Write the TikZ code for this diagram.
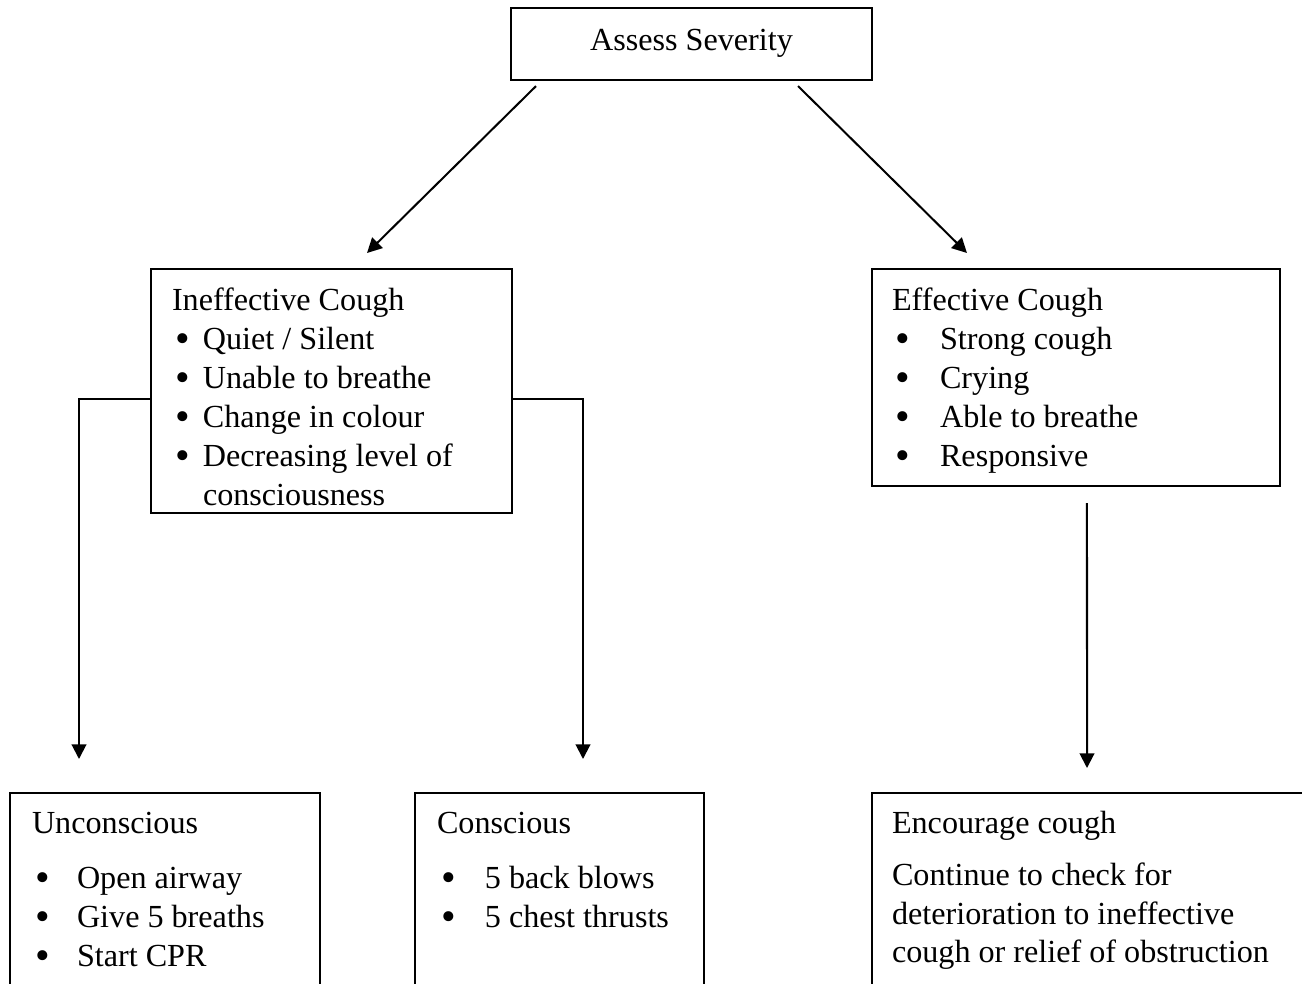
\documentclass[tikz,border=0pt]{standalone}
\usepackage{fontspec}
\usepackage{graphicx}
\setmainfont{Liberation Serif}
\usetikzlibrary{arrows.meta,calc}
\tikzstyle{panel} = [rectangle, draw=black, line width=0.75pt, inner sep=0pt, outer sep=0pt, anchor=north west]
\tikzstyle{txt} = [anchor=base west, inner sep=0pt, outer sep=0pt]
\tikzstyle{arrow} = [line width=0.75pt, -{Triangle[length=5.5pt,width=5.5pt]}]
\newcommand{\bul}[1]{\makebox[#1][l]{\raisebox{-1.2pt}{\scalebox{1.3}{\textbullet}}}}

\begin{document}
\begin{tikzpicture}[x=0.3731pt, y=-0.3731pt, font=\fontsize{12}{14.5}\selectfont]
\useasboundingbox (0,0) rectangle (1302,983);
\clip (0,0) rectangle (1302,983);

% Kaesten
\node (sev) [panel, minimum width=134.7pt, minimum height=26.9pt] at (511,8) {};
\node (ineff) [panel, minimum width=134.7pt, minimum height=91.0pt] at (151,269) {};
\node (eff) [panel, minimum width=152.2pt, minimum height=81.0pt] at (872,269) {};
\node (uncon) [panel, minimum width=115.7pt, minimum height=93.3pt] at (10,793) {};
\node (consc) [panel, minimum width=107.8pt, minimum height=93.3pt] at (415,793) {};
\node (enc) [panel, minimum width=186.6pt, minimum height=93.3pt] at (872,793) {};

% Texte oben
\node (sevT) [txt, anchor=base] at (691.5,50) {Assess Severity};

% Ineffective Cough
\node (ineffH) [txt] at (172,310) {Ineffective Cough};
\node (ineff1) [txt] at (175,349) {\bul{10.4pt}Quiet / Silent};
\node (ineff2) [txt] at (175,388) {\bul{10.4pt}Unable to breathe};
\node (ineff3) [txt] at (175,427) {\bul{10.4pt}Change in colour};
\node (ineff4) [txt] at (175,466) {\bul{10.4pt}Decreasing level of};
\node (ineff5) [txt] at (203,505) {consciousness};

% Effective Cough
\node (effH) [txt] at (892,310) {Effective Cough};
\node (eff1) [txt] at (895,349) {\bul{16.8pt}Strong cough};
\node (eff2) [txt] at (895,388) {\bul{16.8pt}Crying};
\node (eff3) [txt] at (895,427) {\bul{16.8pt}Able to breathe};
\node (eff4) [txt] at (895,466) {\bul{16.8pt}Responsive};

% Unconscious
\node (unconH) [txt] at (32,833) {Unconscious};
\node (uncon1) [txt] at (36,888) {\bul{15.3pt}Open airway};
\node (uncon2) [txt] at (36,927) {\bul{15.3pt}Give 5 breaths};
\node (uncon3) [txt] at (36,966) {\bul{15.3pt}Start CPR};

% Conscious
\node (conscH) [txt] at (437,833) {Conscious};
\node (consc1) [txt] at (441,888) {\bul{16.4pt}5 back blows};
\node (consc2) [txt] at (441,927) {\bul{16.4pt}5 chest thrusts};

% Encourage cough
\node (encH) [txt] at (892,833) {Encourage cough};
\node (enc1) [txt] at (892,885) {Continue to check for};
\node (enc2) [txt] at (892,924) {deterioration to ineffective};
\node (enc3) [txt] at (892,962) {cough or relief of obstruction};

% Pfeile
\draw [arrow] ([shift={(25,6)}]sev.south west) -- ([shift={(35.5,-16)}]ineff.north);
\draw [arrow] ([shift={(-74,6)}]sev.south east) -- ([shift={(-109,-16)}]eff.north);
\draw [arrow] ([shift={(0,8)}]ineff.west) -| ([shift={(69,-34)}]uncon.north west);
\draw [arrow] ([shift={(0,8)}]ineff.east) -| ([shift={(168,-34)}]consc.north west);
\draw [arrow] ([shift={(11,17)}]eff.south) -- ([shift={(215,-25)}]enc.north west);

\end{tikzpicture}
\end{document}
